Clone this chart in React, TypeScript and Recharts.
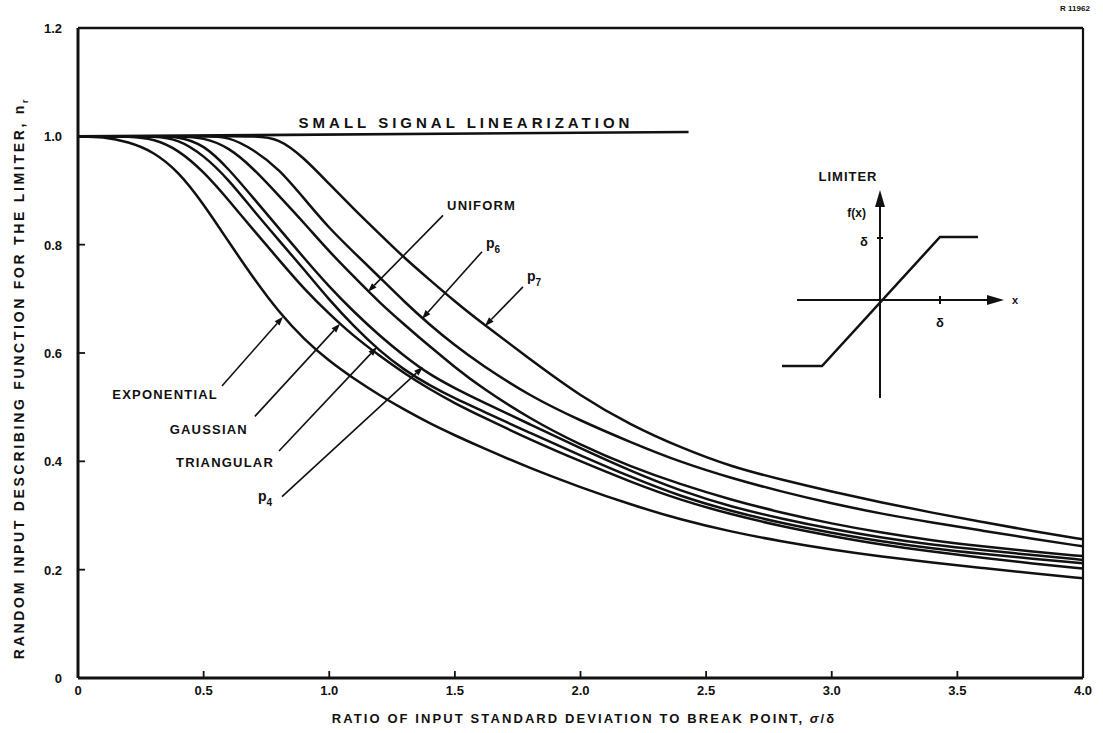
import React from "react";
import { LineChart, Line, XAxis, YAxis, ReferenceLine, Customized } from "recharts";

// sigma / delta sample points shared by all curves
const SIGMA = [0, 0.1, 0.2, 0.3, 0.4, 0.5, 0.6, 0.7, 0.8, 0.9, 1.0, 1.1, 1.2, 1.3, 1.4, 1.5, 1.6, 1.8, 2.0, 2.2, 2.4, 2.6, 2.8, 3.0, 3.2, 3.4, 3.6, 3.8, 4.0];

const EXPONENTIAL = [1, 0.999, 0.99, 0.972, 0.935, 0.875, 0.805, 0.737, 0.675, 0.625, 0.585, 0.552, 0.522, 0.495, 0.47, 0.448, 0.427, 0.387, 0.352, 0.32, 0.292, 0.27, 0.252, 0.237, 0.224, 0.213, 0.203, 0.193, 0.184];
const GAUSSIAN = [1, 1, 1, 0.996, 0.975, 0.935, 0.882, 0.826, 0.772, 0.718, 0.672, 0.63, 0.595, 0.562, 0.533, 0.507, 0.484, 0.44, 0.4, 0.362, 0.328, 0.302, 0.28, 0.262, 0.246, 0.233, 0.222, 0.211, 0.202];
const TRIANGULAR = [1, 1, 1, 1, 0.995, 0.965, 0.92, 0.862, 0.808, 0.754, 0.698, 0.648, 0.604, 0.568, 0.54, 0.516, 0.495, 0.452, 0.411, 0.371, 0.335, 0.308, 0.286, 0.268, 0.252, 0.239, 0.229, 0.22, 0.212];
const P4 = [1, 1, 1, 1, 1, 0.985, 0.94, 0.885, 0.83, 0.775, 0.722, 0.675, 0.632, 0.594, 0.56, 0.535, 0.512, 0.468, 0.424, 0.382, 0.345, 0.316, 0.294, 0.275, 0.259, 0.246, 0.236, 0.227, 0.218];
const UNIFORM = [1, 1, 1, 1, 1, 0.998, 0.98, 0.94, 0.89, 0.84, 0.787, 0.74, 0.693, 0.652, 0.612, 0.574, 0.538, 0.478, 0.43, 0.39, 0.357, 0.329, 0.305, 0.285, 0.268, 0.254, 0.243, 0.233, 0.225];
const P6 = [1, 1, 1, 1, 1, 1, 1, 0.975, 0.94, 0.885, 0.83, 0.785, 0.74, 0.694, 0.652, 0.614, 0.58, 0.52, 0.475, 0.435, 0.398, 0.369, 0.344, 0.322, 0.303, 0.287, 0.272, 0.257, 0.243];
const P7 = [1, 1, 1, 1, 1, 1, 1, 1, 0.997, 0.96, 0.912, 0.865, 0.82, 0.775, 0.735, 0.695, 0.658, 0.588, 0.52, 0.467, 0.425, 0.39, 0.366, 0.344, 0.324, 0.305, 0.288, 0.271, 0.256];

// small signal linearization line
const SSL_X = [0, 2.43];
const SSL_Y = [1.0, 1.008];

const X_TICKS = [0, 0.5, 1, 1.5, 2, 2.5, 3, 3.5, 4];
const Y_TICKS = [0, 0.2, 0.4, 0.6, 0.8, 1.0, 1.2];

const SERIES = [EXPONENTIAL, GAUSSIAN, TRIANGULAR, P4, UNIFORM, P6, P7];

// curve labels with leader arrows (from label end -> onto the curve)
const NOTES = [
  { text: "EXPONENTIAL", sub: "", from: [0.573, 0.539], to: [0.816, 0.667], dx: -4, dy: 13, anchor: "end" },
  { text: "GAUSSIAN", sub: "", from: [0.704, 0.483], to: [1.043, 0.654], dx: -7, dy: 18, anchor: "end" },
  { text: "TRIANGULAR", sub: "", from: [0.8, 0.419], to: [1.19, 0.611], dx: -5, dy: 16, anchor: "end" },
  { text: "p", sub: "4", from: [0.812, 0.335], to: [1.373, 0.574], dx: -24, dy: 4, anchor: "start" },
  { text: "UNIFORM", sub: "", from: [1.453, 0.854], to: [1.154, 0.713], dx: 4, dy: -5, anchor: "start" },
  { text: "p", sub: "6", from: [1.608, 0.787], to: [1.369, 0.663], dx: 4, dy: -4, anchor: "start" },
  { text: "p", sub: "7", from: [1.771, 0.722], to: [1.62, 0.65], dx: 4, dy: -6, anchor: "start" },
];

const FONT = "'Liberation Sans', Arial, sans-serif";
const INK = "#111";
const TICK_GAP = 16;

const toPoints = (ys: number[]) => SIGMA.map((x, i) => ({ x, y: ys[i] }));
const sslPoints = SSL_X.map((x, i) => ({ x, y: SSL_Y[i] }));
const fmt = (v: number) => (v === 0 ? "0" : v.toFixed(1));

const XTick = ({ x, y, payload }: any) => {
  const v = payload.value;
  const axisY = y - TICK_GAP;
  return (
    <g>
      {v > 0 && v < 4 && <line x1={x} x2={x} y1={axisY} y2={axisY - 7} stroke={INK} strokeWidth={1.8} />}
      <text x={x} y={axisY + 17} textAnchor="middle" fontFamily={FONT} fontWeight="bold" fontSize={13} fill={INK}>
        {fmt(v)}
      </text>
    </g>
  );
};

const YTick = ({ x, y, payload }: any) => {
  const v = payload.value;
  const axisX = x + TICK_GAP;
  return (
    <g>
      {v > 0 && v < 1 && <line x1={axisX} x2={axisX + 7} y1={y} y2={y} stroke={INK} strokeWidth={1.8} />}
      <text x={axisX - 16} y={y + 5} textAnchor="end" fontFamily={FONT} fontWeight="bold" fontSize={13} fill={INK}>
        {fmt(v)}
      </text>
    </g>
  );
};

const Leader = (props: any) => {
  const { x1, y1, x2, y2, note } = props;
  const ang = Math.atan2(y2 - y1, x2 - x1);
  const len = 9;
  const half = 3.2;
  const bx = x2 - len * Math.cos(ang);
  const by = y2 - len * Math.sin(ang);
  const px = -Math.sin(ang) * half;
  const py = Math.cos(ang) * half;
  return (
    <g>
      <line x1={x1} y1={y1} x2={bx} y2={by} stroke={INK} strokeWidth={1.6} />
      <polygon points={`${x2},${y2} ${bx + px},${by + py} ${bx - px},${by - py}`} fill={INK} />
      <text
        x={x1 + note.dx}
        y={y1 + note.dy}
        textAnchor={note.anchor}
        fontFamily={FONT}
        fontWeight="bold"
        fontSize={note.sub ? 14 : 13}
        letterSpacing={note.sub ? 0 : 1.2}
        fill={INK}
      >
        {note.text}
        {note.sub && (
          <tspan fontSize={10} dy={5}>
            {note.sub}
          </tspan>
        )}
      </text>
    </g>
  );
};

// inset sketch of the limiter nonlinearity and the free text
const Decor = () => (
  <g fontFamily={FONT} fontWeight="bold" fill={INK}>
    <text x={1075} y={11} fontSize={8} textAnchor="middle">R 11962</text>
    <text x={466} y={128} fontSize={15} letterSpacing={4} textAnchor="middle">SMALL SIGNAL LINEARIZATION</text>

    <text x={848} y={181} fontSize={13} letterSpacing={1} textAnchor="middle">LIMITER</text>
    <text x={866} y={217} fontSize={12} textAnchor="end">f(x)</text>
    <line x1={880} y1={398} x2={880} y2={204} stroke={INK} strokeWidth={2} />
    <polygon points="880,190 875,207 885,207" fill={INK} />
    <line x1={797} y1={300} x2={990} y2={300} stroke={INK} strokeWidth={2} />
    <polygon points="1004,300 987,295 987,305" fill={INK} />
    <text x={1012} y={304} fontSize={11}>x</text>
    <line x1={877} y1={238} x2={883} y2={238} stroke={INK} strokeWidth={2} />
    <text x={868} y={246} fontSize={13} textAnchor="end">δ</text>
    <line x1={940} y1={296} x2={940} y2={304} stroke={INK} strokeWidth={2} />
    <text x={940} y={327} fontSize={13} textAnchor="middle">δ</text>
    <polyline points="782,366 822,366 940,237 978,237" fill="none" stroke={INK} strokeWidth={2.5} />

    <text x={584} y={723} fontSize={13} letterSpacing={2.1} textAnchor="middle">
      RATIO OF INPUT STANDARD DEVIATION TO BREAK POINT, <tspan fontStyle="italic">σ</tspan>/δ
    </text>
    <text x={24} y={378} fontSize={14} letterSpacing={2.7} textAnchor="middle" transform="rotate(-90 24 378)">
      RANDOM INPUT DESCRIBING FUNCTION FOR THE LIMITER, n
      <tspan fontSize={9} dy={4}>r</tspan>
    </text>
  </g>
);

export default function App() {
  return (
    <div style={{ position: "absolute", left: 0, top: 0, width: 1103, height: 733, background: "#fff" }}>
      <LineChart width={1103} height={733} margin={{ top: 28, right: 20, bottom: 25, left: 0 }}>
        <XAxis
          type="number"
          dataKey="x"
          domain={[0, 4]}
          ticks={X_TICKS}
          interval={0}
          tickSize={0}
          tickMargin={TICK_GAP}
          tick={<XTick />}
          height={30}
          axisLine={{ stroke: INK, strokeWidth: 3 }}
          allowDataOverflow
        />
        <YAxis
          type="number"
          dataKey="y"
          domain={[0, 1.2]}
          ticks={Y_TICKS}
          interval={0}
          tickSize={0}
          tickMargin={TICK_GAP}
          tick={<YTick />}
          width={78}
          axisLine={{ stroke: INK, strokeWidth: 3 }}
          allowDataOverflow
        />
        <ReferenceLine y={1.2} stroke={INK} strokeWidth={2.5} ifOverflow="visible" />
        <ReferenceLine x={4} stroke={INK} strokeWidth={2.2} ifOverflow="visible" />

        <Line data={sslPoints} dataKey="y" type="linear" stroke={INK} strokeWidth={2.6} dot={false} isAnimationActive={false} />
        {SERIES.map((ys, i) => (
          <Line
            key={i}
            data={toPoints(ys)}
            dataKey="y"
            type="basis"
            stroke={INK}
            strokeWidth={2.5}
            dot={false}
            isAnimationActive={false}
          />
        ))}

        {NOTES.map((n, i) => (
          <ReferenceLine
            key={"n" + i}
            segment={[
              { x: n.from[0], y: n.from[1] },
              { x: n.to[0], y: n.to[1] },
            ]}
            ifOverflow="visible"
            shape={(p: any) => <Leader {...p} note={n} />}
          />
        ))}

        <Customized component={<Decor />} />
      </LineChart>
    </div>
  );
}
